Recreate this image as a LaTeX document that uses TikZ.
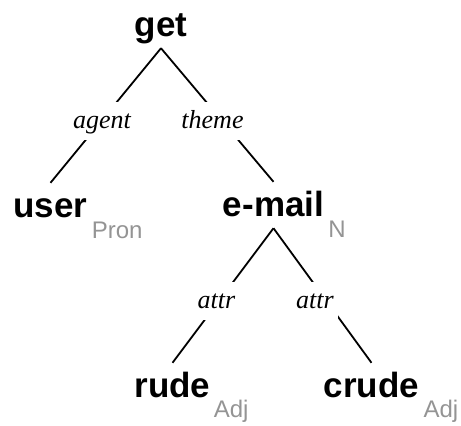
\documentclass[tikz,border=0pt]{standalone}
\usepackage{fontspec}
\setmainfont{Liberation Serif}
\setsansfont{Liberation Sans}
\begin{document}
\begin{tikzpicture}[
  word/.style={font=\fontsize{35}{40}\selectfont\sffamily\bfseries, inner sep=0pt, text height=34pt, text depth=12pt, anchor=base},
  posTag/.style={font=\fontsize{24}{28}\selectfont\sffamily, text=black!42, inner sep=0pt, anchor=base west},
  rel/.style={font=\fontsize{26}{30}\selectfont\rmfamily\itshape, fill=white, inner sep=0pt, inner xsep=4pt, text height=26pt, text depth=12pt, anchor=base},
  edge/.style={line width=1.8pt, black}
]
\useasboundingbox (0,0) rectangle (461pt,-426pt);
% words
\node[word] (get) at (161pt,-36pt) {get};
\node[word] (user) at (50.5pt,-217pt) {user};
\node[word] (email) at (273.5pt,-216pt) {e-mail};
\node[word] (rude) at (172.5pt,-397pt) {rude};
\node[word] (crude) at (371.5pt,-397pt) {crude};
% POS tags
\node[posTag] (userpos) at ([xshift=4pt,yshift=-21pt]user.base east) {Pron};
\node[posTag] (emailpos) at ([xshift=4pt,yshift=-21pt]email.base east) {N};
\node[posTag] (rudepos) at ([xshift=3pt,yshift=-20pt]rude.base east) {Adj};
\node[posTag] (crudepos) at ([xshift=4pt,yshift=-20pt]crude.base east) {Adj};
% edges
\draw[edge] (get.south) -- (user.north);
\draw[edge] (get.south) -- (email.north);
\draw[edge] (email.south) -- (rude.north);
\draw[edge] (email.south) -- (crude.north);
% relation labels
\node[rel] (agent) at (102pt,-128pt) {agent};
\node[rel] (theme) at (212.5pt,-128pt) {theme};
\node[rel] (attrA) at (216.5pt,-308pt) {attr};
\node[rel] (attrB) at (315pt,-308pt) {attr};
\end{tikzpicture}
\end{document}
